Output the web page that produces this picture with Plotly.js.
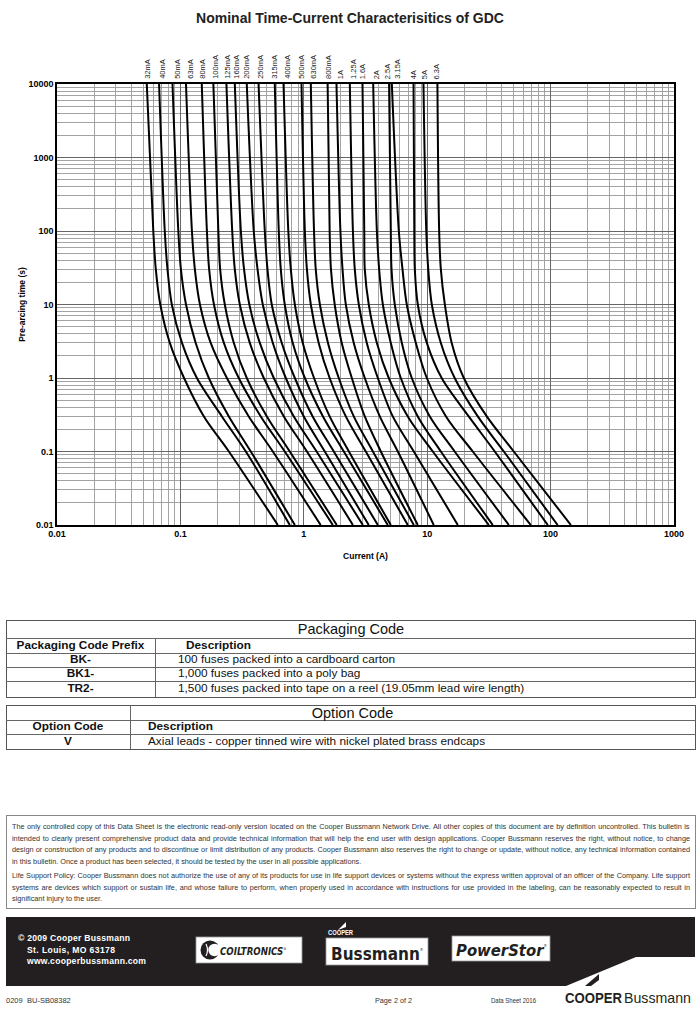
<!DOCTYPE html>
<html>
<head>
<meta charset="utf-8">
<script src="https://cdn.plot.ly/plotly-3.0.1.min.js"></script>
<style>
  html, body { margin:0; padding:0; background:#fff; }
  body { width:700px; height:1011px; position:relative; overflow:hidden;
         font-family:"Liberation Sans",Arial,sans-serif; color:#111; }
  .abs { position:absolute; }
  .box { position:absolute; border:1px solid #555; box-sizing:border-box; }
  .hl { position:absolute; height:0; border-top:1px solid #666; }
  .vl { position:absolute; width:0; border-left:1px solid #666; }
  .t { position:absolute; white-space:nowrap; line-height:1; }
  .disc { position:absolute; left:12px; width:678px; white-space:nowrap; color:#333; line-height:1; }
</style>
</head>
<body>
<div id="chart" class="abs" style="left:0;top:0;width:700px;height:575px"></div>

<!-- Packaging Code table -->
<div class="box" style="left:6px;top:620px;width:690px;height:78px"></div>
<div class="hl" style="left:6px;top:638px;width:690px"></div>
<div class="hl" style="left:6px;top:653px;width:690px"></div>
<div class="hl" style="left:6px;top:667px;width:690px"></div>
<div class="hl" style="left:6px;top:681px;width:690px"></div>
<div class="vl" style="left:155px;top:638px;height:59px"></div>
<div class="t" style="left:0;width:702px;text-align:center;top:622px;font-size:14.5px;">Packaging Code</div>
<div class="t" style="left:6px;width:149px;text-align:center;top:639.5px;font-size:11.8px;font-weight:bold;">Packaging Code Prefix</div>
<div class="t" style="left:186px;top:639.5px;font-size:11.8px;font-weight:bold;">Description</div>
<div class="t" style="left:6px;width:149px;text-align:center;top:654px;font-size:11.8px;font-weight:bold;">BK-</div>
<div class="t" style="left:178px;top:654px;font-size:11.8px;">100 fuses packed into a cardboard carton</div>
<div class="t" style="left:6px;width:149px;text-align:center;top:668px;font-size:11.8px;font-weight:bold;">BK1-</div>
<div class="t" style="left:178px;top:668px;font-size:11.8px;">1,000 fuses packed into a poly bag</div>
<div class="t" style="left:6px;width:149px;text-align:center;top:683px;font-size:11.8px;font-weight:bold;">TR2-</div>
<div class="t" style="left:178px;top:683px;font-size:11.8px;">1,500 fuses packed into tape on a reel (19.05mm lead wire length)</div>

<!-- Option Code table -->
<div class="box" style="left:6px;top:705px;width:690px;height:45px"></div>
<div class="hl" style="left:6px;top:720px;width:690px"></div>
<div class="hl" style="left:6px;top:734px;width:690px"></div>
<div class="vl" style="left:130px;top:705px;height:44px"></div>
<div class="t" style="left:130px;width:445px;text-align:center;top:705.5px;font-size:14.5px;">Option Code</div>
<div class="t" style="left:6px;width:124px;text-align:center;top:721px;font-size:11.8px;font-weight:bold;">Option Code</div>
<div class="t" style="left:148px;top:721px;font-size:11.8px;font-weight:bold;">Description</div>
<div class="t" style="left:6px;width:124px;text-align:center;top:735.5px;font-size:11.8px;font-weight:bold;">V</div>
<div class="t" style="left:148px;top:735.5px;font-size:11.8px;">Axial leads - copper tinned wire with nickel plated brass endcaps</div>

<!-- Disclaimer -->
<div class="box" style="left:6px;top:815px;width:690px;height:94px;border-color:#888"></div>
<div id="disc"></div>

<!-- Footer -->
<svg class="abs" style="left:0;top:0" width="700" height="1011" viewBox="0 0 700 1011">
  <polygon points="6,917 695,917 695,957 636,957 566,986 6,986" fill="#231f20"/>
  <g font-family="Liberation Sans, Arial, sans-serif" font-weight="bold" fill="#fff" font-size="8.6">
    <text x="18" y="941" textLength="112" lengthAdjust="spacing">© 2009 Cooper Bussmann</text>
    <text x="27" y="952.5" textLength="88" lengthAdjust="spacing">St. Louis, MO 63178</text>
    <text x="27" y="964" textLength="119" lengthAdjust="spacing">www.cooperbussmann.com</text>
  </g>
  <!-- Coiltronics -->
  <rect x="196" y="937" width="106" height="26" fill="#fff" stroke="#999" stroke-width="0.8"/>
  <circle cx="210" cy="950" r="9.5" fill="#231f20"/>
  <circle cx="214.5" cy="950" r="6.2" fill="#fff"/>
  <path d="M206,944 q3,6 0,12" stroke="#fff" stroke-width="1.2" fill="none"/>
  <text x="220" y="954.5" font-family="DejaVu Sans Condensed, DejaVu Sans, sans-serif" font-weight="bold" font-style="italic" font-size="9.6" fill="#231f20">COILTRONICS<tspan font-size="3.5" font-style="normal" font-weight="normal" dy="-5">®</tspan></text>
  <!-- Bussmann -->
  <path d="M338,930 L346,922 L346,927 Z" fill="#fff"/>
  <text x="328" y="935" font-family="Liberation Sans, Arial, sans-serif" font-weight="bold" font-size="6.5" textLength="25" lengthAdjust="spacingAndGlyphs" fill="#fff">COOPER</text>
  <rect x="326" y="938" width="102" height="27" fill="#fff" stroke="#999" stroke-width="0.8"/>
  <text x="331" y="959.5" font-family="DejaVu Sans Condensed, DejaVu Sans, sans-serif" font-weight="bold" font-size="17" fill="#231f20">Bussmann<tspan font-size="4" font-weight="normal" dy="-9">®</tspan></text>
  <!-- PowerStor -->
  <rect x="452" y="936" width="98" height="25" fill="#fff" stroke="#999" stroke-width="0.8"/>
  <text x="456" y="955.5" font-family="DejaVu Sans Condensed, DejaVu Sans, sans-serif" font-weight="bold" font-style="italic" font-size="16.5" fill="#231f20">PowerStor<tspan font-size="4" font-style="normal" font-weight="normal" dy="-9">®</tspan></text>
  <!-- bottom line -->
  <g font-family="Liberation Sans, Arial, sans-serif" font-size="7.5" fill="#333">
    <text x="6" y="1003">0209</text>
    <text x="27" y="1003">BU-SB08382</text>
    <text x="375" y="1003" textLength="37" lengthAdjust="spacingAndGlyphs">Page 2 of 2</text>
    <text x="491" y="1003" textLength="45" lengthAdjust="spacingAndGlyphs">Data Sheet 2016</text>
  </g>
  <path d="M585,986 L599,974 L599,980 L591,986 Z" fill="#231f20"/>
  <text x="565" y="1003" font-family="Liberation Sans, Arial, sans-serif" font-weight="bold" font-size="15" textLength="57" lengthAdjust="spacingAndGlyphs" fill="#231f20">COOPER</text>
  <text x="624" y="1003" font-family="Liberation Sans, Arial, sans-serif" font-size="15" textLength="67" lengthAdjust="spacingAndGlyphs" fill="#231f20">Bussmann</text>
</svg>

<script>
// ---------------- DATA ----------------
// Pre-arcing time points (s) at which each curve's current was read
const T_S = [10000, 100, 30, 10, 3, 1, 0.3, 0.1, 0.01];

// Current (A) for each fuse rating at the times above
const I_32mA  = [0.0534, 0.0603, 0.0632, 0.0687, 0.0821, 0.107, 0.155, 0.247, 0.616];
const I_40mA  = [0.0672, 0.0747, 0.0786, 0.0852, 0.103, 0.136, 0.217, 0.339, 0.770];
const I_50mA  = [0.0863, 0.0962, 0.101, 0.111, 0.133, 0.170, 0.247, 0.372, 0.846];
const I_63mA  = [0.111, 0.124, 0.131, 0.144, 0.176, 0.238, 0.358, 0.561, 1.37];
const I_80mA  = [0.149, 0.164, 0.171, 0.187, 0.225, 0.297, 0.448, 0.701, 1.72];
const I_100mA = [0.185, 0.203, 0.210, 0.229, 0.271, 0.345, 0.502, 0.770, 1.85];
const I_125mA = [0.236, 0.263, 0.276, 0.303, 0.365, 0.474, 0.689, 1.06, 2.50];
const I_160mA = [0.276, 0.309, 0.328, 0.362, 0.440, 0.571, 0.830, 1.27, 3.01];
const I_200mA = [0.345, 0.393, 0.422, 0.465, 0.561, 0.715, 1.00, 1.48, 3.36];
const I_250mA = [0.430, 0.483, 0.508, 0.550, 0.663, 0.846, 1.18, 1.75, 3.98];
const I_315mA = [0.582, 0.627, 0.651, 0.701, 0.814, 1.02, 1.43, 2.11, 4.79];
const I_400mA = [0.685, 0.749, 0.785, 0.846, 0.981, 1.21, 1.62, 2.32, 5.07];
const I_500mA = [0.958, 1.02, 1.06, 1.14, 1.32, 1.62, 2.19, 3.18, 6.96];
const I_630mA = [1.14, 1.21, 1.25, 1.35, 1.57, 1.92, 2.54, 3.63, 7.79];
const I_800mA = [1.56, 1.62, 1.66, 1.78, 2.03, 2.45, 3.12, 4.21, 8.39];
const I_1A    = [1.84, 1.98, 2.06, 2.19, 2.54, 3.12, 4.13, 5.78, 11.3];
const I_1_25A = [2.36, 2.50, 2.59, 2.79, 3.24, 3.98, 5.26, 7.79, 17.7];
const I_1_6A  = [2.99, 3.09, 3.12, 3.36, 3.91, 4.88, 6.96, 11.1, 31.6];
const I_2A    = [3.65, 3.91, 4.08, 4.37, 5.07, 6.11, 8.39, 12.9, 34.0];
const I_2_5A  = [4.91, 5.07, 5.14, 5.46, 6.23, 7.50, 10.5, 16.7, 45.9];
const I_3_15A = [5.17, 5.89, 6.31, 6.83, 8.09, 9.93, 14.2, 23.4, 69.1];
const I_4A    = [7.75, 7.86, 7.94, 8.39, 9.93, 13.1, 21.7, 35.3, 94.9];
const I_5A    = [9.33, 9.83, 10.2, 10.9, 12.9, 16.7, 25.7, 41.8, 114];
const I_6_3A  = [12.1, 12.5, 12.9, 13.9, 15.8, 19.8, 30.4, 50.3, 146];

const RATINGS = ['32mA','40mA','50mA','63mA','80mA','100mA','125mA','160mA','200mA','250mA',
                 '315mA','400mA','500mA','630mA','800mA','1A','1.25A','1.6A','2A','2.5A',
                 '3.15A','4A','5A','6.3A'];
const CURVES = [I_32mA, I_40mA, I_50mA, I_63mA, I_80mA, I_100mA, I_125mA, I_160mA, I_200mA, I_250mA,
                I_315mA, I_400mA, I_500mA, I_630mA, I_800mA, I_1A, I_1_25A, I_1_6A, I_2A, I_2_5A,
                I_3_15A, I_4A, I_5A, I_6_3A];
// current (A) at which each rating label sits above the plot
const LABEL_I = [0.0534, 0.0707, 0.0935, 0.119, 0.149, 0.190, 0.238, 0.281, 0.339, 0.440,
                 0.571, 0.728, 0.946, 1.18, 1.57, 1.99, 2.50, 3.01, 3.91, 4.79,
                 5.67, 7.79, 9.56, 12.0];

const X_TICKS = [0.01, 0.1, 1, 10, 100, 1000];
const X_TICK_TEXT = ['0.01', '0.1', '1', '10', '100', '1000'];
const Y_TICKS = [0.01, 0.1, 1, 10, 100, 1000, 10000];
const Y_TICK_TEXT = ['0.01', '0.1', '1', '10', '100', '1000', '10000'];

// ---------------- CHART ----------------
function minorLog(lo, hi) {
  const v = [];
  for (let e = lo; e < hi; e++) for (let m = 2; m <= 9; m++) v.push(m * Math.pow(10, e));
  return v;
}
const FONT = 'Liberation Sans, Arial, sans-serif';

const traces = CURVES.map((c, i) => ({
  x: c, y: T_S, type: 'scatter', mode: 'lines', name: RATINGS[i],
  line: { color: '#000', width: 2, shape: 'spline', smoothing: 0.9 },
  hoverinfo: 'skip'
}));

const annotations = RATINGS.map((r, i) => ({
  text: r, xref: 'x', yref: 'paper', x: Math.log10(LABEL_I[i]), y: 1,
  xanchor: 'center', yanchor: 'bottom', yshift: 3, textangle: -90, showarrow: false,
  font: { family: FONT, size: 7.5, color: '#222' }
}));

const axisCommon = {
  type: 'log', showline: true, mirror: true, linecolor: '#000', linewidth: 1.6,
  ticks: '', showgrid: true, gridcolor: '#666', gridwidth: 1, zeroline: false,
  tickmode: 'array', tickfont: { family: FONT, size: 9, color: '#000', weight: 'bold' }
};

const layout = {
  width: 700, height: 575,
  margin: { l: 57, r: 26, t: 84, b: 50 },
  paper_bgcolor: '#fff', plot_bgcolor: '#fff',
  showlegend: false,
  title: { text: 'Nominal Time-Current Characterisitics of GDC', x: 0.5, xref: 'container',
           y: 1 - 18 / 575, yref: 'container', yanchor: 'middle',
           font: { family: FONT, size: 14, color: '#222', weight: 'bold' } },
  xaxis: Object.assign({}, axisCommon, {
    range: [-2, 3], tickvals: X_TICKS, ticktext: X_TICK_TEXT,
    minor: { tickmode: 'array', tickvals: minorLog(-2, 3), showgrid: true, gridcolor: '#999', gridwidth: 0.9, ticks: '' },
    title: { text: 'Current (A)', standoff: 14, font: { family: FONT, size: 8.5, color: '#000', weight: 'bold' } }
  }),
  yaxis: Object.assign({}, axisCommon, {
    range: [-2, 4], tickvals: Y_TICKS, ticktext: Y_TICK_TEXT,
    minor: { tickmode: 'array', tickvals: minorLog(-2, 4), showgrid: true, gridcolor: '#999', gridwidth: 0.9, ticks: '' },
    title: { text: 'Pre-arcing time (s)', standoff: 1, font: { family: FONT, size: 8.5, color: '#000', weight: 'bold' } }
  }),
  annotations: annotations
};

Plotly.newPlot('chart', traces, layout, { displayModeBar: false, staticPlot: true });

// ---------------- DISCLAIMER ----------------
const DISC_LINES = [
  ['The only controlled copy of this Data Sheet is the electronic read-only version located on the Cooper Bussmann Network Drive. All other copies of this document are by definition uncontrolled. This bulletin is', 827, true],
  ['intended to clearly present comprehensive product data and provide technical information that will help the end user with design applications. Cooper Bussmann reserves the right, without notice, to change', 838.5, true],
  ['design or construction of any products and to discontinue or limit distribution of any products. Cooper Bussmann also reserves the right to change or update, without notice, any technical information contained', 850, true],
  ['in this bulletin. Once a product has been selected, it should be tested by the user in all possible applications.', 861.5, false],
  ['Life Support Policy: Cooper Bussmann does not authorize the use of any of its products for use in life support devices or systems without the express written approval of an officer of the Company. Life support', 876, true],
  ['systems are devices which support or sustain life, and whose failure to perform, when properly used in accordance with instructions for use provided in the labeling, can be reasonably expected to result in', 887.5, true],
  ['significant injury to the user.', 899, false]
];
(function () {
  const fam = '"Liberation Sans",Arial,sans-serif';
  const cv = document.createElement('canvas').getContext('2d');
  cv.font = '10px ' + fam;
  let maxW = 0;
  DISC_LINES.forEach(l => { if (l[2]) maxW = Math.max(maxW, cv.measureText(l[0]).width); });
  const size = Math.min(8, 10 * 672 / maxW);
  const host = document.getElementById('disc');
  DISC_LINES.forEach(l => {
    const d = document.createElement('div');
    d.className = 'disc';
    d.style.fontFamily = fam;
    d.style.fontSize = size + 'px';
    d.style.color = '#333';
    d.style.top = (l[1] - size * 0.5) + 'px';
    if (l[2]) {
      const words = l[0].split(' ');
      cv.font = size + 'px ' + fam;
      const natural = cv.measureText(l[0]).width;
      const extra = (678 - natural) / (words.length - 1);
      d.style.wordSpacing = extra + 'px';
    }
    d.textContent = l[0];
    host.appendChild(d);
  });
})();
</script>
</body>
</html>
